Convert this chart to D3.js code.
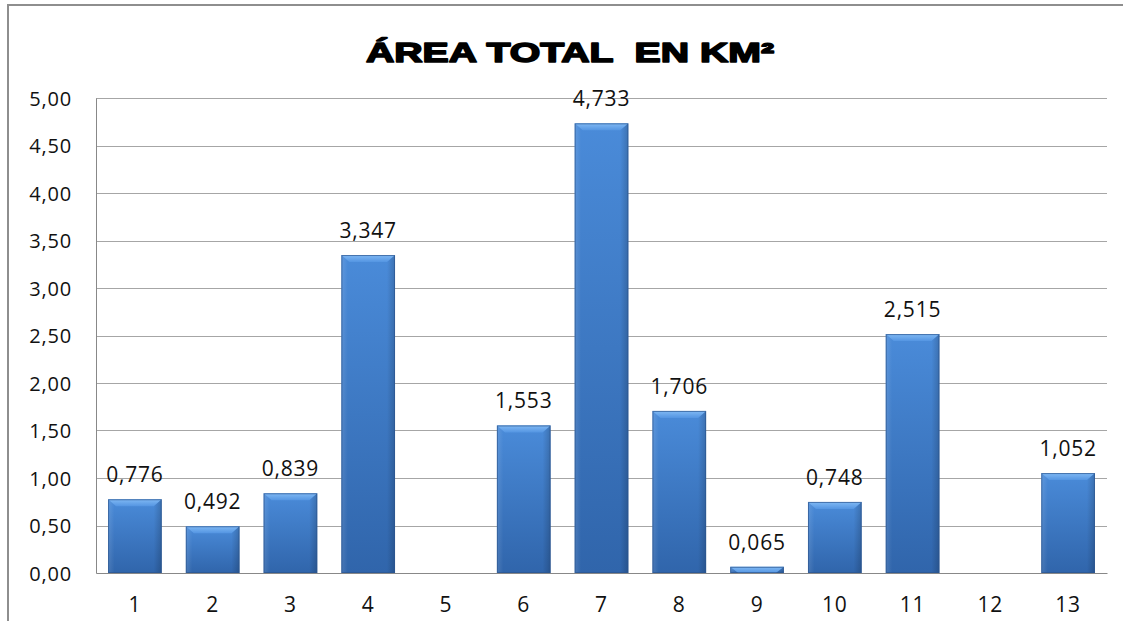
<!DOCTYPE html>
<html><head><meta charset="utf-8">
<script src="https://cdn.jsdelivr.net/npm/d3@7"></script>
<style>
html,body{margin:0;padding:0;background:#fff;}
svg{display:block;}
</style></head>
<body>
<svg id="chart" width="1123" height="621"></svg>
<script>
const categories = ["1","2","3","4","5","6","7","8","9","10","11","12","13"];
const values = [0.776, 0.492, 0.839, 3.347, null, 1.553, 4.733, 1.706, 0.065, 0.748, 2.515, null, 1.052];
const yTicks = [0, 0.5, 1, 1.5, 2, 2.5, 3, 3.5, 4, 4.5, 5];
const titleText = "ÁREA TOTAL  EN KM²";

const svg = d3.select("#chart");
const W = 1123, H = 621;
const pLeft = 96, pRight = 1107, pTop = 98, pBottom = 573;

const x = d3.scaleBand().domain(categories).range([pLeft, pRight]).paddingInner(0.31).paddingOuter(0.155);
const y = d3.scaleLinear().domain([0, 5]).range([pBottom, pTop]);
const fmt = v => d3.format(".3f")(v).replace(".", ",");
const fmtT = v => d3.format(".2f")(v).replace(".", ",");

const defs = svg.append("defs");
const gv = defs.append("linearGradient").attr("id","gv").attr("x1",0).attr("y1",0).attr("x2",0).attr("y2",1);
gv.append("stop").attr("offset","0%").attr("stop-color","#4a8bd9");
gv.append("stop").attr("offset","100%").attr("stop-color","#3065ab");
const gh = defs.append("linearGradient").attr("id","gh").attr("x1",0).attr("y1",0).attr("x2",1).attr("y2",0);
gh.append("stop").attr("offset","0%").attr("stop-color","#ffffff").attr("stop-opacity",0.12);
gh.append("stop").attr("offset","12%").attr("stop-color","#ffffff").attr("stop-opacity",0.0);
gh.append("stop").attr("offset","85%").attr("stop-color","#000000").attr("stop-opacity",0.0);
gh.append("stop").attr("offset","100%").attr("stop-color","#000000").attr("stop-opacity",0.18);
const gt = defs.append("linearGradient").attr("id","gt").attr("x1",0).attr("y1",0).attr("x2",0).attr("y2",1);
gt.append("stop").attr("offset","0%").attr("stop-color","#80b9f4");
gt.append("stop").attr("offset","100%").attr("stop-color","#5495e2");

// frame
svg.append("line").attr("x1",8).attr("x2",W).attr("y1",5).attr("y2",5).attr("stroke","#8e8e8e").attr("stroke-width",2);
svg.append("line").attr("x1",8).attr("x2",8).attr("y1",4).attr("y2",H).attr("stroke","#8e8e8e").attr("stroke-width",2);

// title
svg.append("text").attr("x",570).attr("y",62).attr("text-anchor","middle")
  .style("white-space","pre")
  .attr("font-family","'Liberation Sans', Arial, sans-serif").attr("font-weight","bold")
  .attr("font-size",28).attr("fill","#000").attr("stroke","#000").attr("stroke-width",1.6)
  .attr("stroke-linejoin","round")
  .attr("textLength",408).attr("lengthAdjust","spacingAndGlyphs")
  .text(titleText);

// gridlines
svg.append("g").selectAll("line").data(yTicks.filter(d=>d>0)).join("line")
  .attr("x1",pLeft).attr("x2",pRight).attr("y1",d=>Math.round(y(d))+0.5).attr("y2",d=>Math.round(y(d))+0.5)
  .attr("stroke","#a6a6a6").attr("stroke-width",1);

// y axis
const yAxis = svg.append("g").attr("transform",`translate(${pLeft},0)`)
  .call(d3.axisLeft(y).tickValues(yTicks).tickFormat(fmtT).tickSize(0).tickPadding(24));
yAxis.select(".domain").attr("stroke","#888");
yAxis.selectAll("text").attr("font-family","'Open Sans', sans-serif").attr("font-size",20)
  .attr("letter-spacing","0.8px").attr("fill","#111").attr("dy","0.35em");

// x axis
const xAxis = svg.append("g").attr("transform",`translate(0,${pBottom})`)
  .call(d3.axisBottom(x).tickSize(0).tickPadding(24));
xAxis.select(".domain").attr("stroke","#888");
xAxis.selectAll("text").attr("font-family","'Open Sans', sans-serif").attr("font-size",21)
  .attr("letter-spacing","0.8px").attr("fill","#111").attr("dy","0.71em");

// bars
const data = categories.map((c,i)=>({c, v: values[i]})).filter(d=>d.v!==null);
const bw = x.bandwidth();
const bars = svg.append("g").selectAll("g").data(data).join("g");
bars.append("rect").attr("x",d=>x(d.c)).attr("y",d=>y(d.v)).attr("width",bw).attr("height",d=>pBottom-y(d.v))
  .attr("fill","url(#gv)");
bars.append("rect").attr("x",d=>x(d.c)).attr("y",d=>y(d.v)).attr("width",bw).attr("height",d=>pBottom-y(d.v))
  .attr("fill","url(#gh)");
bars.append("path").attr("d",d=>{
  const x0=x(d.c), x1=x0+bw, y0=y(d.v), h=Math.min(7, pBottom-y0), b=Math.min(8,bw/2);
  return `M${x0},${y0}L${x1},${y0}L${x1-b},${y0+h}L${x0+b},${y0+h}Z`;
}).attr("fill","url(#gt)");
bars.append("rect").attr("x",d=>x(d.c)+0.5).attr("y",d=>y(d.v)+0.5).attr("width",bw-1).attr("height",d=>Math.max(0,pBottom-y(d.v)-1))
  .attr("fill","none").attr("stroke","#2c568e").attr("stroke-width",1).attr("stroke-opacity",0.7);

// value labels
svg.append("g").selectAll("text").data(data).join("text")
  .attr("x",d=>x(d.c)+bw/2).attr("y",d=>y(d.v)-17).attr("text-anchor","middle")
  .attr("font-family","'Open Sans', sans-serif").attr("font-size",21).attr("letter-spacing","0.8px")
  .attr("fill","#111").text(d=>fmt(d.v));
</script>
</body></html>
